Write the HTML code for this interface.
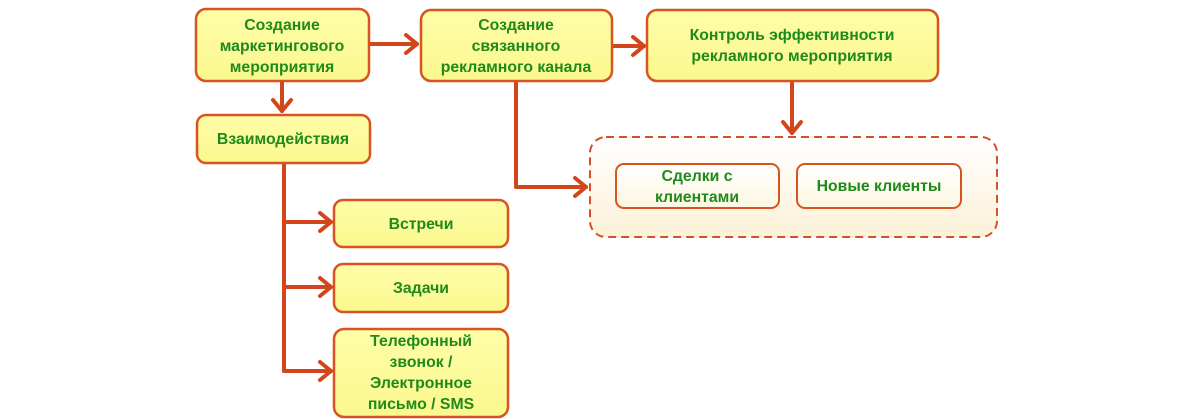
<!DOCTYPE html>
<html><head><meta charset="utf-8"><style>
html,body{margin:0;padding:0;background:#fff;width:1200px;height:419px;overflow:hidden}
svg{display:block}
text{font-family:"Liberation Sans",Arial,sans-serif;font-weight:bold;font-size:15.8px;fill:#1f8a1c;text-anchor:middle}
</style></head><body>
<svg width="1200" height="419" viewBox="0 0 1200 419" xmlns="http://www.w3.org/2000/svg">
<defs>
<linearGradient id="yg" x1="0" y1="0" x2="0" y2="1"><stop offset="0" stop-color="#fefda8"/><stop offset="1" stop-color="#fbf88e"/></linearGradient>
<linearGradient id="cg" x1="0" y1="0" x2="0" y2="1"><stop offset="0" stop-color="#ffffff"/><stop offset="1" stop-color="#fcf1d8"/></linearGradient>
<linearGradient id="wg" x1="0" y1="0" x2="0" y2="1"><stop offset="0" stop-color="#ffffff"/><stop offset="1" stop-color="#fcf6e0"/></linearGradient>
</defs>
<g fill="none" stroke="#d3461b" stroke-width="4" stroke-linecap="round" stroke-linejoin="round">
<line x1="369" y1="44" x2="417" y2="44"/><polyline points="406,35 417,44 406,53"/>
<line x1="612" y1="46" x2="644" y2="46"/><polyline points="633,37 644,46 633,55"/>
<line x1="282" y1="81" x2="282" y2="111"/><polyline points="273,100 282,111 291,100"/>
<line x1="792" y1="81" x2="792" y2="133"/><polyline points="783,122 792,133 801,122"/>
<polyline points="516,81 516,187 586,187"/><polyline points="575,178 586,187 575,196"/>
<line x1="284" y1="163" x2="284" y2="371"/>
<line x1="284" y1="222" x2="331" y2="222"/><polyline points="320,213 331,222 320,231"/>
<line x1="284" y1="287" x2="331" y2="287"/><polyline points="320,278 331,287 320,296"/>
<line x1="284" y1="371" x2="331" y2="371"/><polyline points="320,362 331,371 320,380"/>
</g>
<rect x="590" y="137" width="407" height="100" rx="16" fill="url(#cg)" stroke="#d4502a" stroke-width="2" stroke-dasharray="8,5"/>
<g stroke="#d9531e" stroke-width="2.5">
<rect x="196" y="9" width="173" height="72" rx="10" fill="url(#yg)"/>
<rect x="421" y="10" width="191" height="71" rx="10" fill="url(#yg)"/>
<rect x="647" y="10" width="291" height="71" rx="10" fill="url(#yg)"/>
<rect x="197" y="115" width="173" height="48" rx="9" fill="url(#yg)"/>
<rect x="334" y="200" width="174" height="47" rx="9" fill="url(#yg)"/>
<rect x="334" y="264" width="174" height="48" rx="9" fill="url(#yg)"/>
<rect x="334" y="329" width="174" height="88" rx="10" fill="url(#yg)"/>
<rect x="616" y="164" width="163" height="44" rx="8" fill="url(#wg)" stroke-width="2"/>
<rect x="797" y="164" width="164" height="44" rx="8" fill="url(#wg)" stroke-width="2"/>
</g>
<text x="282" y="30">Создание</text>
<text x="282" y="51">маркетингового</text>
<text x="282" y="72">мероприятия</text>
<text x="516" y="30">Создание</text>
<text x="516" y="51">связанного</text>
<text x="516" y="72">рекламного канала</text>
<text x="792" y="40">Контроль эффективности</text>
<text x="792" y="61">рекламного мероприятия</text>
<text x="283" y="144">Взаимодействия</text>
<text x="421" y="229">Встречи</text>
<text x="421" y="293">Задачи</text>
<text x="421" y="346">Телефонный</text>
<text x="421" y="367">звонок /</text>
<text x="421" y="388">Электронное</text>
<text x="421" y="409">письмо / SMS</text>
<text x="697" y="181">Сделки с</text>
<text x="697" y="202">клиентами</text>
<text x="879" y="191">Новые клиенты</text>
</svg>
</body></html>
